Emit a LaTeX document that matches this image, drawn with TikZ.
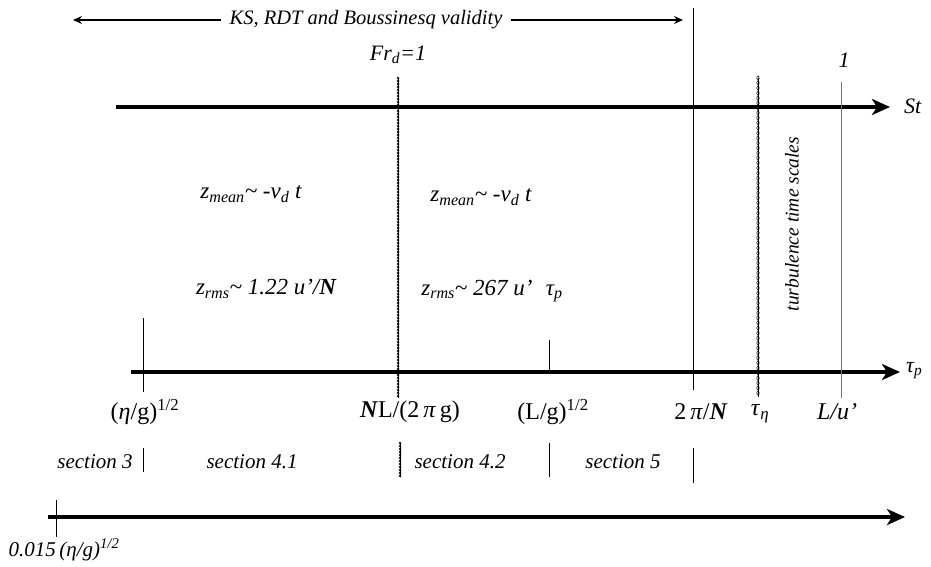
\documentclass[tikz,border=0pt]{standalone}
\usepackage{fontspec}
\setmainfont{Liberation Serif}
\usetikzlibrary{arrows.meta,decorations.markings}
\newcommand{\uprm}{u\char"27}

\begin{document}
\begin{tikzpicture}[x=1pt,y=-1pt,
    axis/.style={line width=3.8pt,-{Stealth[length=18pt,width=16pt,inset=5pt]}},
    span/.style={line width=1.3pt,-{Stealth[length=9pt,width=8pt]}},
    tick/.style={line width=0.8pt},
    greytick/.style={line width=0.9pt,draw=black!55},
    circline/.style={decoration={markings,
      mark=between positions 0 and 1 step 3pt with {\draw[line width=0.55pt] (0,0) circle (1.1pt);}},
      postaction={decorate}},
    ovalline/.style={decoration={markings,
      mark=between positions 0 and 1 step 5pt with {\draw[line width=0.6pt] (0,0) ellipse [x radius=2.1pt, y radius=1.15pt];}},
      postaction={decorate}},
    lab/.style={inner sep=0pt,font=\fontsize{20.5}{24}\selectfont\itshape},
    biglab/.style={inner sep=0pt,font=\fontsize{22}{26}\selectfont\itshape},
    eqlab/.style={inner sep=0pt,font=\fontsize{23}{27}\selectfont\itshape},
    scale lab/.style={inner sep=0pt,font=\fontsize{24}{28}\selectfont},
    seclab/.style={inner sep=0pt,font=\fontsize{21}{25}\selectfont\itshape}
]
\useasboundingbox (0,0) rectangle (931,566);

% validity range
\node[lab] (valid) at (366,20) {KS, RDT and Boussinesq validity};
\coordinate (validL) at (73,20);
\coordinate (validR) at (683,20);
\draw[span] ([xshift=-8pt]valid.west) -- (validL);
\draw[span] ([xshift=8pt]valid.east) -- (validR);

% axes
\coordinate (stA) at (116,107);
\coordinate (stB) at (890,107);
\coordinate (tpA) at (131,372);
\coordinate (tpB) at (900,372);
\coordinate (btA) at (48,517);
\coordinate (btB) at (905,517);
\draw[axis] (stA) -- (stB);
\draw[axis] (tpA) -- (tpB);
\draw[axis] (btA) -- (btB);
\node[biglab,anchor=west] (st) at (904,106) {St};
\node[biglab,anchor=west] (taup) at (906,371) {τ\textsubscript{p}};

% vertical markers
\draw[tick] (693,8) -- (693,390);
\draw[tick] (693,448) -- (693,483);
\draw[circline] (398,78) -- (398,398);
\draw[circline] (400,443) -- (400,477);
\draw[ovalline] (758,78) -- (758,397);
\draw[greytick] (841,82) -- (841,398);
\draw[tick] (143,318) -- (143,392);
\draw[tick] (143,448) -- (143,472);
\draw[tick] (549,340) -- (549,374);
\draw[tick] (549,443) -- (549,477);
\draw[tick] (56,500) -- (56,537);

% top labels
\node[biglab] (frd) at (398,55) {Fr\textsubscript{d}=1};
\node[biglab] (one) at (844,60) {1};

% regimes
\node[eqlab] (zmeanA) at (251,194) {z\textsubscript{mean}\string~ -v\textsubscript{d} t};
\node[eqlab] (zmeanB) at (481,197) {z\textsubscript{mean}\string~ -v\textsubscript{d} t};
\node[eqlab] (zrmsA) at (266,289) {z\textsubscript{rms}\string~ 1.22 \uprm/\textbf{N}};
\node[eqlab] (zrmsB) at (492,291) {z\textsubscript{rms}\string~ 267 \uprm\,\, τ\textsubscript{p}};
\node[lab,font=\fontsize{19.5}{23}\selectfont\itshape,rotate=90] (turb) at (792,224) {turbulence time scales};

% time scale labels
\node[scale lab] (etag) at (145,412) {(\textit{η}/g)\textsuperscript{1/2}};
\node[scale lab] (nl) at (410,412) {\textbf{\textit{N}}L/(2\,\textit{π}\,g)};
\node[scale lab] (lg) at (553,412) {(L/g)\textsuperscript{1/2}};
\node[scale lab] (twopi) at (701,412) {2\,\textit{π}/\textbf{\textit{N}}};
\node[scale lab] (taueta) at (760,414) {\textit{τ}\textsubscript{\textit{η}}};
\node[scale lab] (lu) at (837,412) {\textit{L/\uprm}};

% sections
\node[seclab] (s3) at (95,462) {section 3};
\node[seclab] (s41) at (252,462) {section 4.1};
\node[seclab] (s42) at (460,462) {section 4.2};
\node[seclab] (s5) at (623,462) {section 5};

\node[seclab] (low) at (64,550) {0.015\,(η/g)\textsuperscript{1/2}};
\end{tikzpicture}
\end{document}
